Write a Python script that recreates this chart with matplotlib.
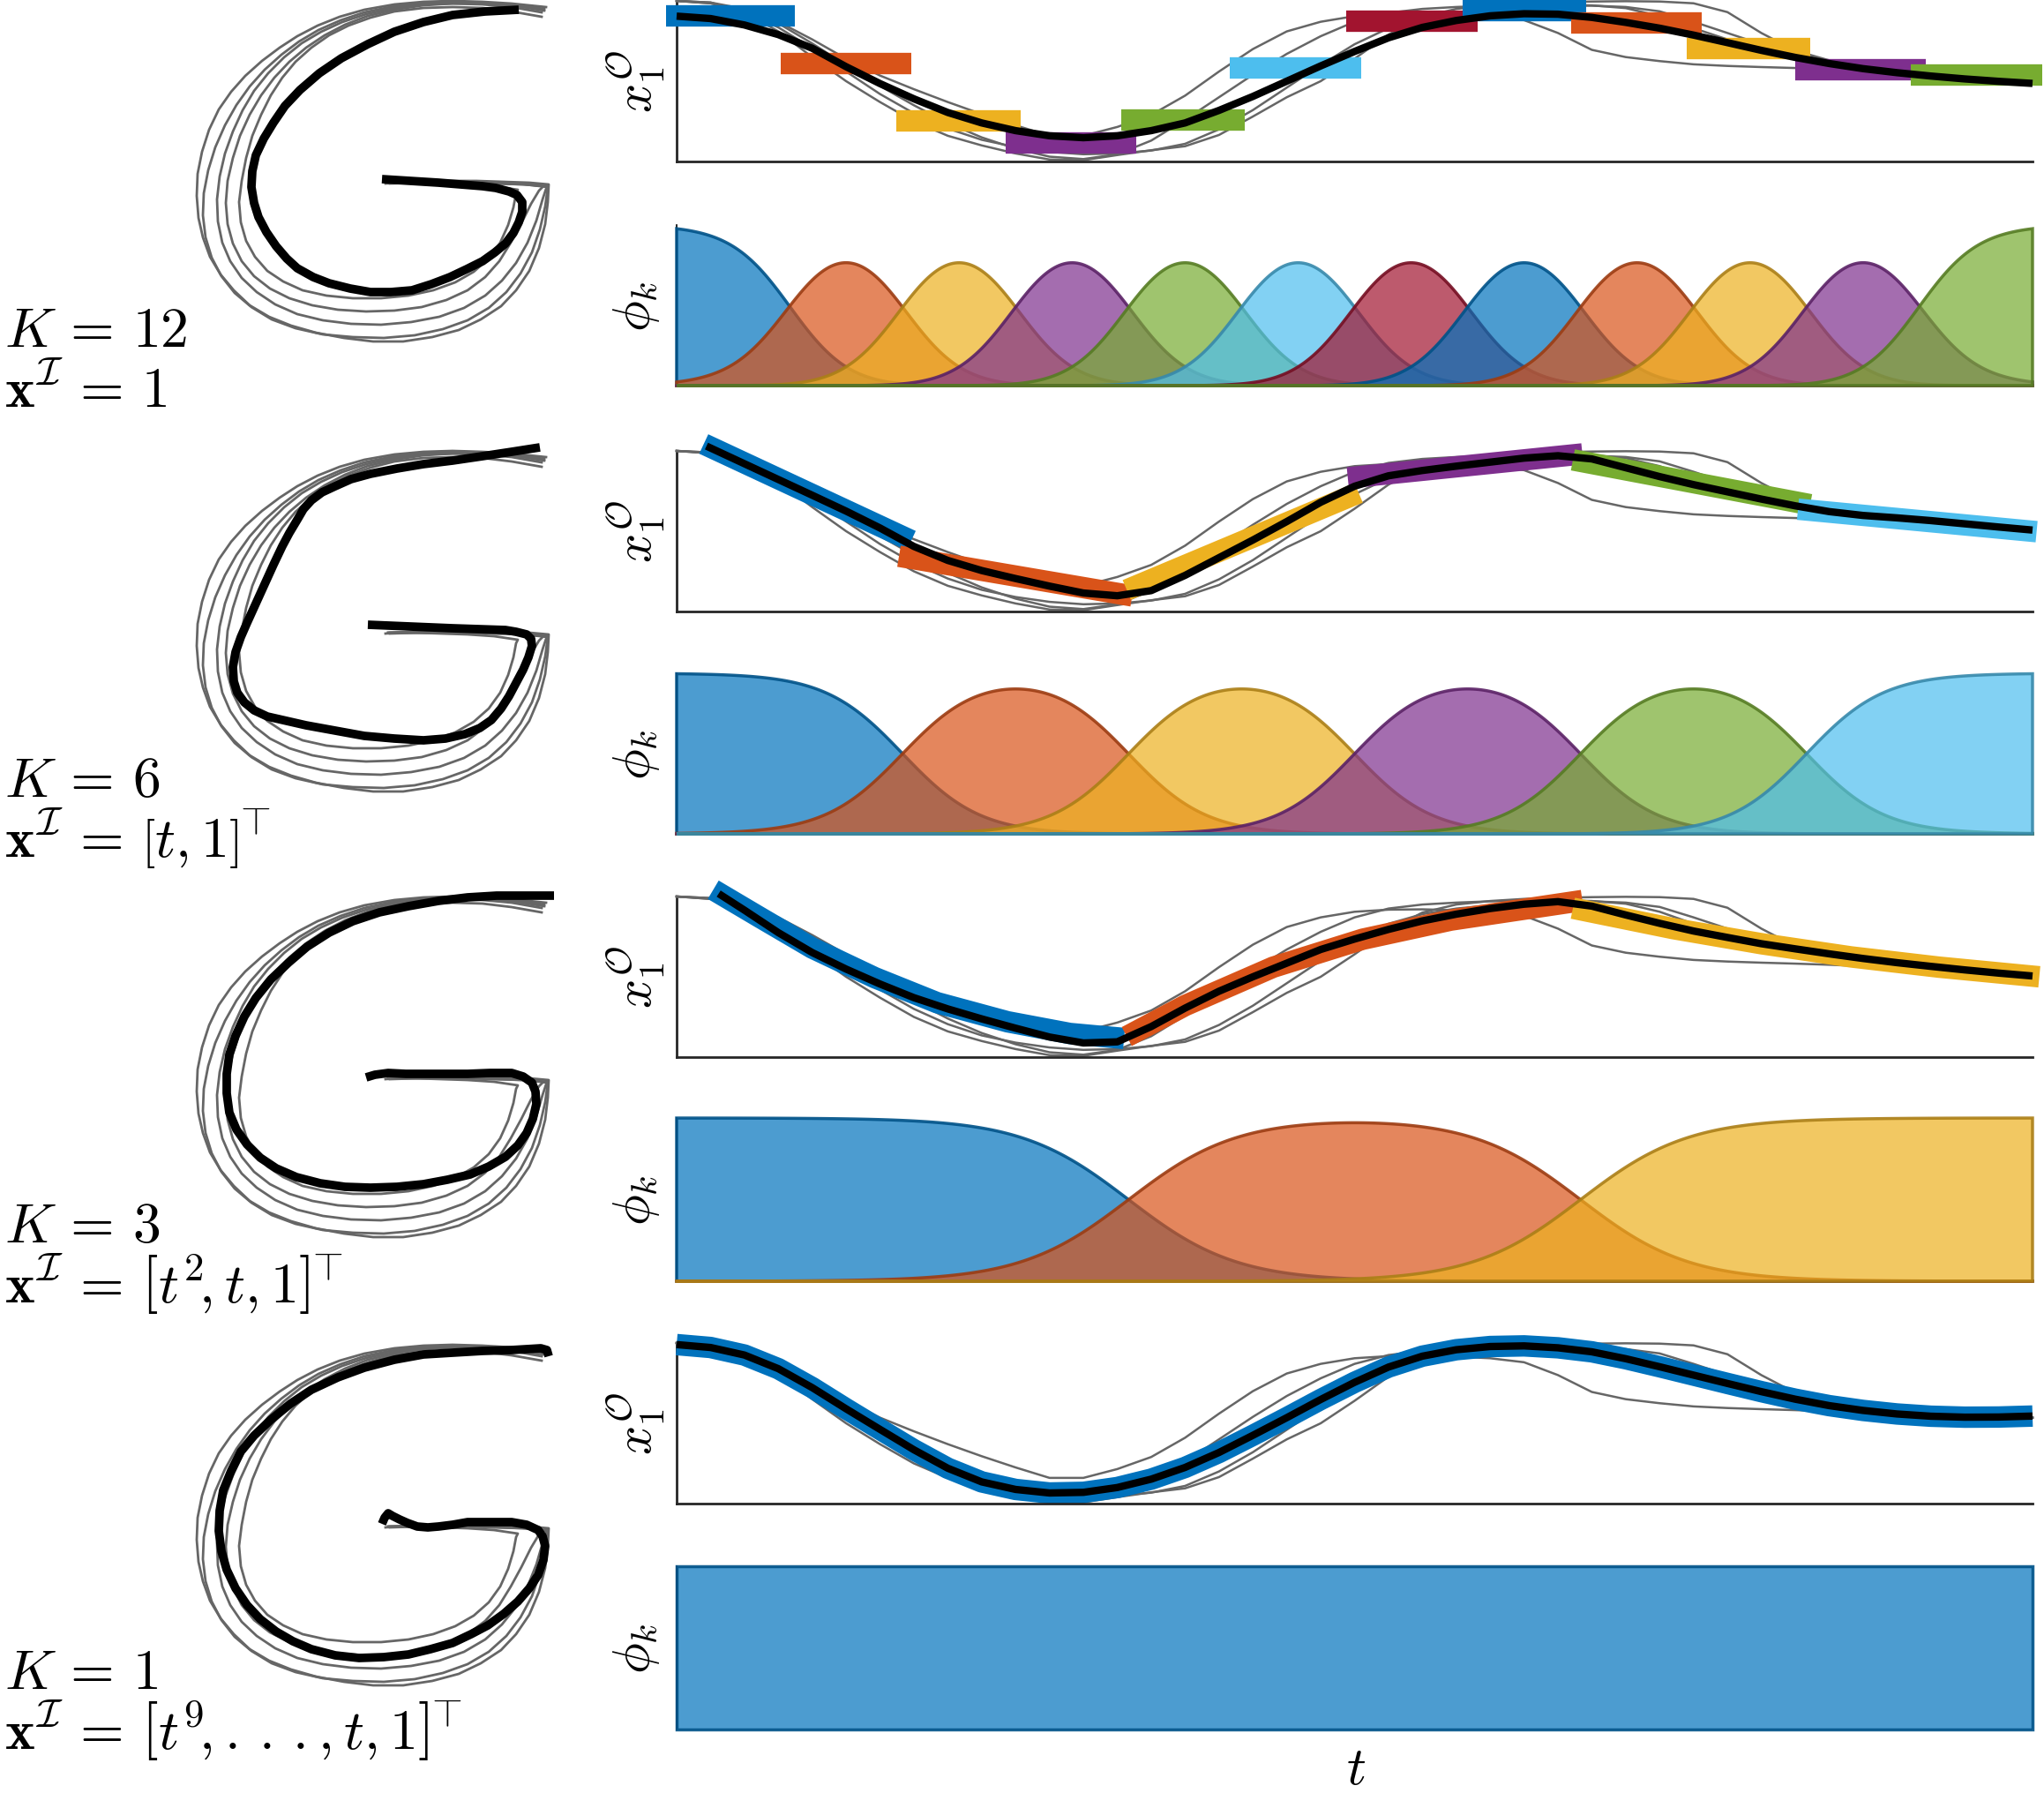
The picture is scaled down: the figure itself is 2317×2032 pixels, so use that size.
"""
Basis-function decomposition of a handwritten "G" for four model orders.
"""

import numpy as np
import matplotlib
matplotlib.use("Agg")
import matplotlib.pyplot as plt
from matplotlib.colors import to_rgba

plt.rcParams["mathtext.fontset"] = "cm"

W, H = 2317, 2033

# matlab default line colours
BLUE, ORANGE, YELLOW = "#0072BD", "#D95319", "#EDB120"
PURPLE, GREEN, CYAN, DARKRED = "#7E2F8E", "#77AC30", "#4DBEEE", "#A2142F"
COLORS_K12 = [BLUE, ORANGE, YELLOW, PURPLE, GREEN, CYAN, DARKRED,
              BLUE, ORANGE, YELLOW, PURPLE, GREEN]

K_VALUES = [12, 6, 3, 1]
K_LABELS = [r"$K\,=\,12$", r"$K\,=\,6$", r"$K\,=\,3$", r"$K\,=\,1$"]
XI_LABELS = [r"$\mathbf{x}^{\mathcal{I}}\,=\,1$",
             r"$\mathbf{x}^{\mathcal{I}}\,=\,\left[t, 1\right]^{\!\!\top}$",
             r"$\mathbf{x}^{\mathcal{I}}\,=\,\left[t^2\!, t, 1\right]^{\!\!\top}$",
             r"$\mathbf{x}^{\mathcal{I}}\,=\,\left[t^9\!, .\,.\,., t, 1\right]^{\!\!\top}$"]

# basis widths (normalised gaussians, centres at (k+0.5)/K)
SIGMAS = [0.043, 0.069, 0.115, None]

# ---- demonstrations of x1 over time (normalised to demo range) ----
T_GRID = np.linspace(0, 1, 41)
DEMO_A = [1.000, 0.990, 0.950, 0.870, 0.760, 0.640, 0.535, 0.450, 0.370, 0.295,
          0.225, 0.160, 0.160, 0.215, 0.290, 0.410, 0.560, 0.700, 0.810, 0.870,
          0.905, 0.918, 0.920, 0.915, 0.905, 0.880, 0.800, 0.695, 0.650, 0.625,
          0.605, 0.595, 0.588, 0.582, 0.575, 0.566, 0.556, 0.548, 0.542, 0.538, 0.535]
DEMO_B = [1.000, 0.990, 0.930, 0.810, 0.650, 0.500, 0.370, 0.250, 0.160, 0.100,
          0.050, 0.012, 0.008, 0.040, 0.070, 0.095, 0.165, 0.280, 0.400, 0.500,
          0.640, 0.790, 0.900, 0.950, 0.972, 0.985, 0.992, 0.996, 0.998, 0.996,
          0.985, 0.930, 0.800, 0.690, 0.630, 0.595, 0.570, 0.553, 0.543, 0.538, 0.535]
DEMO_C = [1.000, 0.985, 0.945, 0.860, 0.735, 0.600, 0.470, 0.350, 0.240, 0.150,
          0.080, 0.030, 0.015, 0.045, 0.130, 0.260, 0.400, 0.540, 0.670, 0.780,
          0.870, 0.925, 0.950, 0.962, 0.970, 0.975, 0.977, 0.972, 0.955, 0.905,
          0.830, 0.760, 0.700, 0.650, 0.612, 0.585, 0.565, 0.552, 0.543, 0.538, 0.535]
DEMO_D = [1.000, 0.985, 0.935, 0.835, 0.705, 0.560, 0.420, 0.300, 0.205, 0.135,
          0.090, 0.060, 0.045, 0.050, 0.068, 0.110, 0.200, 0.320, 0.460, 0.600,
          0.730, 0.830, 0.890, 0.925, 0.945, 0.960, 0.968, 0.970, 0.962, 0.935,
          0.870, 0.800, 0.730, 0.670, 0.625, 0.592, 0.570, 0.555, 0.545, 0.539, 0.535]
X1_DEMOS = [DEMO_A, DEMO_B, DEMO_C, DEMO_D]

# ---- reproductions of x1 for each K ----
REPRO_T1 = T_GRID
REPRO_V1 = [0.905, 0.890, 0.850, 0.790, 0.705, 0.590, 0.485, 0.390, 0.305, 0.240,
            0.192, 0.160, 0.148, 0.160, 0.192, 0.240, 0.318, 0.405, 0.500, 0.595,
            0.685, 0.770, 0.835, 0.878, 0.907, 0.920, 0.917, 0.897, 0.866, 0.830,
            0.787, 0.740, 0.692, 0.648, 0.610, 0.578, 0.553, 0.532, 0.514, 0.499, 0.486]
REPRO_T2 = np.r_[0.022, T_GRID[2:]]
REPRO_V2 = [1.030, 0.920, 0.822, 0.724, 0.625, 0.520, 0.405, 0.318, 0.255, 0.205,
            0.158, 0.115, 0.098, 0.130, 0.225, 0.335, 0.445, 0.560, 0.680, 0.780,
            0.845, 0.878, 0.905, 0.930, 0.955, 0.970, 0.950, 0.895, 0.840, 0.790,
            0.745, 0.700, 0.658, 0.622, 0.598, 0.583, 0.566, 0.546, 0.526, 0.507]
REPRO_T3 = np.r_[0.031, T_GRID[2:]]
REPRO_V3 = [1.018, 0.915, 0.775, 0.651, 0.548, 0.455, 0.370, 0.300, 0.238, 0.180,
            0.125, 0.088, 0.095, 0.190, 0.305, 0.410, 0.500, 0.585, 0.670, 0.735,
            0.795, 0.848, 0.890, 0.925, 0.952, 0.968, 0.940, 0.885, 0.833, 0.785,
            0.745, 0.706, 0.674, 0.643, 0.614, 0.588, 0.565, 0.543, 0.523, 0.505]
REPRO_T4 = T_GRID
REPRO_V4 = [0.990, 0.972, 0.925, 0.840, 0.722, 0.590, 0.462, 0.335, 0.220, 0.135,
            0.088, 0.066, 0.070, 0.100, 0.152, 0.225, 0.318, 0.425, 0.535, 0.648,
            0.755, 0.850, 0.918, 0.958, 0.978, 0.982, 0.970, 0.945, 0.902, 0.852,
            0.800, 0.748, 0.697, 0.650, 0.610, 0.580, 0.558, 0.544, 0.538, 0.539, 0.545]

# ---- local models (coloured segments) ----
SEG1_T = [(-0.008, 0.087), (0.077, 0.173), (0.162, 0.254), (0.243, 0.339),
          (0.328, 0.419), (0.408, 0.505), (0.494, 0.591), (0.580, 0.671),
          (0.660, 0.756), (0.745, 0.836), (0.825, 0.921), (0.910, 1.007)]
SEG1_V = [0.908, 0.609, 0.253, 0.114, 0.257, 0.582, 0.875, 0.939, 0.862, 0.701,
          0.574, 0.536]

SEG2_T = [(0.020, 0.173), (0.164, 0.336), (0.332, 0.503), (0.495, 0.668),
          (0.661, 0.836), (0.827, 1.003)]
SEG2_V = [(1.043, 0.441), (0.344, 0.097), (0.134, 0.739), (0.832, 0.981),
          (0.944, 0.665), (0.637, 0.497)]

SEG3_T = [[0.027, 0.061, 0.100, 0.146, 0.192, 0.244, 0.290, 0.330],
          [0.332, 0.375, 0.440, 0.506, 0.571, 0.637, 0.668],
          [0.661, 0.735, 0.800, 0.866, 0.931, 1.005]]
SEG3_V = [[1.042, 0.872, 0.679, 0.495, 0.339, 0.220, 0.147, 0.116],
          [0.128, 0.321, 0.560, 0.734, 0.853, 0.936, 0.975],
          [0.927, 0.800, 0.706, 0.624, 0.560, 0.500]]

# ---- handwritten G demos, (x, y) in px of the drawing box, y down ----
G_DEMO_1 = [(439, 39), (400, 35), (367, 33), (333, 32), (300, 33), (267, 36), (233, 42),
            (205, 50), (180, 60), (157, 72), (137, 85), (117, 100), (98, 117), (82, 135),
            (68, 155), (57, 178), (49, 203), (44, 228), (43, 253), (45, 278), (50, 300),
            (58, 322), (70, 342), (85, 360), (103, 377), (125, 390), (150, 400), (178, 408),
            (210, 414), (243, 418), (277, 418), (310, 413), (340, 405), (365, 393),
            (388, 378), (405, 360), (420, 338), (431, 312), (438, 285), (441, 260),
            (442, 240), (420, 238), (390, 237), (360, 236), (330, 236), (300, 237),
            (270, 238), (257, 239)]
G_DEMO_2 = [(437, 41), (400, 36), (367, 34), (333, 33), (300, 34), (267, 38), (233, 45),
            (206, 54), (181, 65), (159, 78), (139, 93), (120, 110), (103, 129), (88, 150),
            (75, 173), (64, 198), (56, 224), (51, 250), (50, 275), (53, 300), (60, 323),
            (71, 344), (86, 363), (105, 379), (128, 393), (155, 403), (186, 410),
            (220, 413), (255, 414), (290, 411), (322, 404), (350, 394), (374, 380),
            (394, 362), (410, 341), (423, 317), (432, 291), (438, 265), (441, 243),
            (415, 240), (385, 239), (355, 238), (325, 238), (295, 238), (262, 239)]
G_DEMO_3 = [(434, 45), (400, 39), (367, 36), (333, 35), (300, 36), (267, 40), (235, 47),
            (208, 56), (184, 67), (162, 80), (142, 96), (124, 114), (108, 134), (95, 156),
            (84, 180), (75, 205), (69, 231), (66, 257), (67, 282), (72, 306), (81, 327),
            (94, 346), (111, 362), (132, 376), (157, 387), (186, 394), (218, 398),
            (252, 399), (286, 396), (318, 390), (346, 380), (370, 366), (389, 349),
            (405, 329), (418, 306), (428, 281), (435, 257), (440, 242), (412, 240),
            (382, 239), (352, 238), (322, 238), (292, 238), (262, 238)]
G_DEMO_4 = [(437, 43), (400, 37), (367, 35), (333, 35), (300, 37), (267, 42), (237, 49),
            (211, 59), (188, 71), (167, 85), (148, 101), (131, 119), (116, 139),
            (103, 161), (92, 185), (84, 210), (78, 236), (76, 261), (78, 285), (84, 307),
            (94, 327), (108, 344), (126, 358), (148, 369), (174, 377), (203, 382),
            (235, 384), (267, 383), (298, 379), (326, 371), (350, 360), (370, 345),
            (386, 327), (399, 306), (411, 284), (422, 262), (431, 247), (436, 242),
            (410, 239), (380, 238), (350, 237), (320, 237), (290, 237), (260, 238)]
G_DEMO_5 = [(434, 50), (400, 44), (367, 40), (333, 39), (300, 40), (267, 44), (240, 51),
            (215, 60), (193, 71), (173, 85), (155, 101), (140, 119), (127, 139),
            (116, 161), (106, 185), (99, 210), (94, 236), (91, 260), (93, 283), (99, 304),
            (109, 322), (123, 338), (141, 350), (163, 360), (190, 366), (220, 369),
            (252, 369), (283, 366), (311, 360), (336, 351), (357, 339), (374, 324),
            (387, 306), (396, 286), (402, 266), (405, 250), (407, 246), (380, 242),
            (350, 240), (320, 239), (290, 238), (260, 238)]
G_DEMOS = [G_DEMO_1, G_DEMO_2, G_DEMO_3, G_DEMO_4, G_DEMO_5]

G_REPRO_1 = [(408, 42), (370, 44), (333, 48), (300, 56), (267, 67), (237, 81), (207, 97),
             (182, 114), (160, 133), (143, 151), (130, 170), (119, 188), (110, 207),
             (106, 225), (105, 243), (108, 261), (113, 277), (122, 294), (133, 310),
             (145, 324), (157, 335), (175, 345), (193, 352), (217, 358), (240, 362),
             (263, 362), (287, 360), (309, 353), (330, 345), (349, 336), (367, 327),
             (381, 317), (393, 307), (402, 295), (408, 283), (412, 271), (412, 260),
             (406, 252), (397, 248), (382, 244), (367, 242), (342, 240), (317, 238),
             (285, 236), (253, 234)]
G_REPRO_2 = [(432, 28), (400, 33), (367, 38), (333, 43), (300, 47), (270, 52), (240, 58),
             (218, 64), (200, 72), (185, 79), (173, 88), (164, 98), (157, 110), (148, 125),
             (140, 140), (130, 161), (120, 183), (110, 205), (100, 227), (93, 243),
             (87, 260), (84, 277), (85, 293), (89, 306), (97, 317), (108, 326),
             (123, 333), (145, 338), (167, 343), (200, 349), (233, 355), (267, 358),
             (300, 360), (325, 358), (347, 353), (364, 346), (377, 337), (388, 324),
             (397, 310), (405, 295), (413, 280), (419, 266), (423, 253), (422, 245),
             (417, 240), (405, 237), (393, 235), (363, 234), (333, 233), (285, 231),
             (237, 229)]
G_REPRO_3 = [(448, 31), (415, 31), (383, 31), (350, 33), (317, 37), (283, 43), (250, 50),
             (220, 60), (193, 73), (168, 89), (147, 107), (127, 126), (110, 147),
             (97, 168), (87, 190), (80, 211), (77, 233), (77, 255), (80, 277), (88, 296),
             (100, 313), (115, 328), (133, 340), (156, 350), (183, 357), (211, 361),
             (240, 362), (270, 361), (300, 358), (327, 353), (353, 347), (374, 338),
             (393, 327), (407, 314), (417, 300), (424, 284), (428, 267), (427, 253),
             (423, 243), (413, 236), (400, 232), (375, 232), (350, 233), (325, 233),
             (300, 233), (280, 233), (260, 232), (245, 234), (235, 237)]
G_REPRO_4 = [(442, 45), (440, 38), (433, 36), (400, 38), (367, 39), (333, 41), (300, 43),
             (267, 49), (233, 58), (203, 69), (173, 83), (149, 99), (127, 117),
             (108, 135), (93, 153), (82, 175), (73, 197), (69, 220), (68, 243), (71, 266),
             (77, 287), (87, 308), (100, 327), (115, 343), (133, 357), (152, 368),
             (173, 377), (200, 384), (227, 387), (255, 386), (283, 383), (308, 377),
             (333, 370), (354, 360), (373, 350), (391, 337), (407, 323), (420, 308),
             (430, 293), (436, 276), (438, 260), (435, 249), (430, 242), (417, 236),
             (400, 233), (375, 233), (350, 233), (333, 236), (317, 238), (305, 239),
             (293, 238), (282, 234), (273, 230), (265, 226), (260, 223), (256, 228),
             (253, 235)]
G_REPROS = [G_REPRO_1, G_REPRO_2, G_REPRO_3, G_REPRO_4]

# ---- layout (pixels of the final image) ----
ROW_TOPS = [2, 512, 1017, 1523]          # top of each x1 panel
PHI_BOXES = [(256, 182), (764, 182), (1268, 185), (1776, 185)]
X1_HEIGHT = 182
PANEL_LEFT, PANEL_WIDTH = 767, 1537
G_LEFT, G_WIDTH, G_HEIGHT = 180, 460, 420
G_TOPS = [-30, 480, 985, 1493]

GRAY = "0.4"

fig = plt.figure(figsize=(W / 100, H / 100), dpi=100)


def add_px_axes(left, top, width, height):
    return fig.add_axes([left / W, 1 - (top + height) / H, width / W, height / H])


def darker(c, f=0.72):
    r, g, b, _ = to_rgba(c)
    return (r * f, g * f, b * f, 0.9)


def basis(t, K, sigma):
    if K == 1:
        return np.ones((len(t), 1))
    centers = (np.arange(K) + 0.5) / K
    w = np.exp(-(t[:, None] - centers[None, :]) ** 2 / (2 * sigma ** 2))
    return w / w.sum(axis=1, keepdims=True)


repro_t = [REPRO_T1, REPRO_T2, REPRO_T3, REPRO_T4]
repro_v = [REPRO_V1, REPRO_V2, REPRO_V3, REPRO_V4]

# segments per row as (t, v, colour)
segments = [
    [((a, b), (v, v), COLORS_K12[i]) for i, ((a, b), v) in enumerate(zip(SEG1_T, SEG1_V))],
    [(tt, vv, COLORS_K12[i]) for i, (tt, vv) in enumerate(zip(SEG2_T, SEG2_V))],
    [(tt, vv, COLORS_K12[i]) for i, (tt, vv) in enumerate(zip(SEG3_T, SEG3_V))],
    [(REPRO_T4, REPRO_V4, BLUE)],
]

t_fine = np.linspace(0, 1, 600)

for r in range(4):
    # -------- G drawing --------
    axg = add_px_axes(G_LEFT, G_TOPS[r], G_WIDTH, G_HEIGHT)
    for demo in G_DEMOS:
        xs, ys = zip(*demo)
        axg.plot(xs, ys, color=GRAY, lw=2.0, solid_joinstyle="round")
    xs, ys = zip(*G_REPROS[r])
    axg.plot(xs, ys, color="k", lw=7, solid_capstyle="butt", solid_joinstyle="round")
    axg.set_xlim(0, G_WIDTH)
    axg.set_ylim(G_HEIGHT, 0)
    axg.axis("off")

    # -------- x1 trajectory --------
    ax = add_px_axes(PANEL_LEFT, ROW_TOPS[r], PANEL_WIDTH, X1_HEIGHT)
    for demo in X1_DEMOS:
        ax.plot(T_GRID, demo, color=GRAY, lw=1.8, clip_on=False)
    for tt, vv, c in segments[r]:
        ax.plot(tt, vv, color=c, lw=17.5, solid_capstyle="butt",
                solid_joinstyle="round", clip_on=False)
    ax.plot(repro_t[r], repro_v[r], color="k", lw=6, solid_capstyle="butt",
            solid_joinstyle="round", clip_on=False)
    ax.set_xlim(0, 1)
    ax.set_ylim(0, 1)
    ax.set_xticks([])
    ax.set_yticks([])
    for side in ["top", "right"]:
        ax.spines[side].set_visible(False)
    for side in ["left", "bottom"]:
        ax.spines[side].set_color("0.15")
        ax.spines[side].set_linewidth(2.0)
    ax.spines["left"].set_zorder(0)
    cy = ROW_TOPS[r] + X1_HEIGHT / 2
    fig.text(721 / W, 1 - cy / H, r"$x_1^{\mathcal{O}}$", rotation=90,
             ha="center", va="center", fontsize=42)

    # -------- basis functions --------
    ptop, ph = PHI_BOXES[r]
    axp = add_px_axes(PANEL_LEFT, ptop, PANEL_WIDTH, ph)
    K = K_VALUES[r]
    phi = basis(t_fine, K, SIGMAS[r])
    cols = COLORS_K12[:K]
    for k in range(K):
        xs = np.r_[0, t_fine, 1]
        ys = np.r_[0, phi[:, k], 0]
        axp.fill(xs, ys, facecolor=to_rgba(cols[k], 0.7), edgecolor=darker(cols[k]),
                 lw=2.5, clip_on=False)
    axp.set_xlim(0, 1)
    axp.set_ylim(0, 1.0)
    axp.set_xticks([])
    axp.set_yticks([])
    for side in ["top", "right", "bottom"]:
        axp.spines[side].set_visible(False)
    axp.spines["left"].set_linewidth(1.2)
    axp.spines["left"].set_zorder(0)
    cy = ptop + ph / 2
    fig.text(721 / W, 1 - cy / H, r"$\phi_k$", rotation=90,
             ha="center", va="center", fontsize=42)

    # -------- row labels --------
    fig.text(5 / W, 1 - (ROW_TOPS[r] + 391) / H, K_LABELS[r],
             ha="left", va="baseline", fontsize=46)
    fig.text(5 / W, 1 - (ROW_TOPS[r] + 460) / H, XI_LABELS[r],
             ha="left", va="baseline", fontsize=46)

fig.text(1537 / W, 1 - 2006 / H, r"$t$", ha="center", va="center", fontsize=44)

fig.savefig("out.png", dpi=100)
